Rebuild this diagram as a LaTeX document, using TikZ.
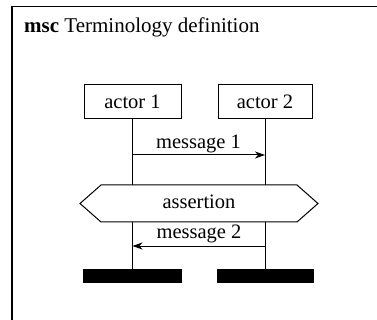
\documentclass[tikz,border=0pt]{standalone}
\usepackage{fontspec}
\setmainfont{Liberation Serif}
\usetikzlibrary{arrows.meta}
\begin{document}
\begin{tikzpicture}[x=1pt,y=-1pt,
  txt/.style={font=\fontsize{20.5}{24}\selectfont, inner sep=0pt},
  actor/.style={draw, line width=1pt, minimum height=34pt, inner sep=0pt, font=\fontsize{20.5}{24}\selectfont},
  lifeline/.style={line width=1pt},
  msgarrow/.style={line width=1pt, -{Stealth[length=10pt,width=7pt,inset=3pt]}},
  stopbar/.style={fill=black, draw=none, minimum height=14pt, inner sep=0pt}]
\useasboundingbox (0,0) rectangle (377,320);
% frame (extends beyond the picture)
\draw[line width=1.4pt] (12,330) -- (12,6.5) -- (390,6.5);
\node[txt, anchor=base west, font=\fontsize{21}{24}\selectfont] (title) at (24,33) {\textbf{msc} Terminology definition};
% actors
\node[actor, minimum width=97pt] (a1) at (132.5,102) {actor 1};
\node[actor, minimum width=94pt] (a2) at (265,102) {actor 2};
% stop bars
\node[stopbar, minimum width=99pt] (s1) at (132.5,276) {};
\node[stopbar, minimum width=97pt] (s2) at (265.5,276) {};
% lifelines
\draw[lifeline] (a1.south) -- (a1.south |- s1.north);
\draw[lifeline] (a2.south) -- (a2.south |- s2.north);
% message 1
\coordinate (m1a) at (a1.south |- 0,155);
\coordinate (m1b) at (a2.south |- 0,155);
\draw[msgarrow] (m1a) -- (m1b);
\node[txt, anchor=base] (m1) at (198.5,149) {message 1};
% assertion
\draw[line width=1pt, fill=white] (80,203.5) -- (101,185) -- (297,185) -- (318,203.5) -- (297,222) -- (101,222) -- cycle;
\node[txt, anchor=base] (as) at (199,209) {assertion};
% message 2
\coordinate (m2a) at (a2.south |- 0,246);
\coordinate (m2b) at (a1.south |- 0,246);
\draw[msgarrow] (m2a) -- (m2b);
\node[txt, anchor=base] (m2) at (199,238) {message 2};
\end{tikzpicture}
\end{document}
